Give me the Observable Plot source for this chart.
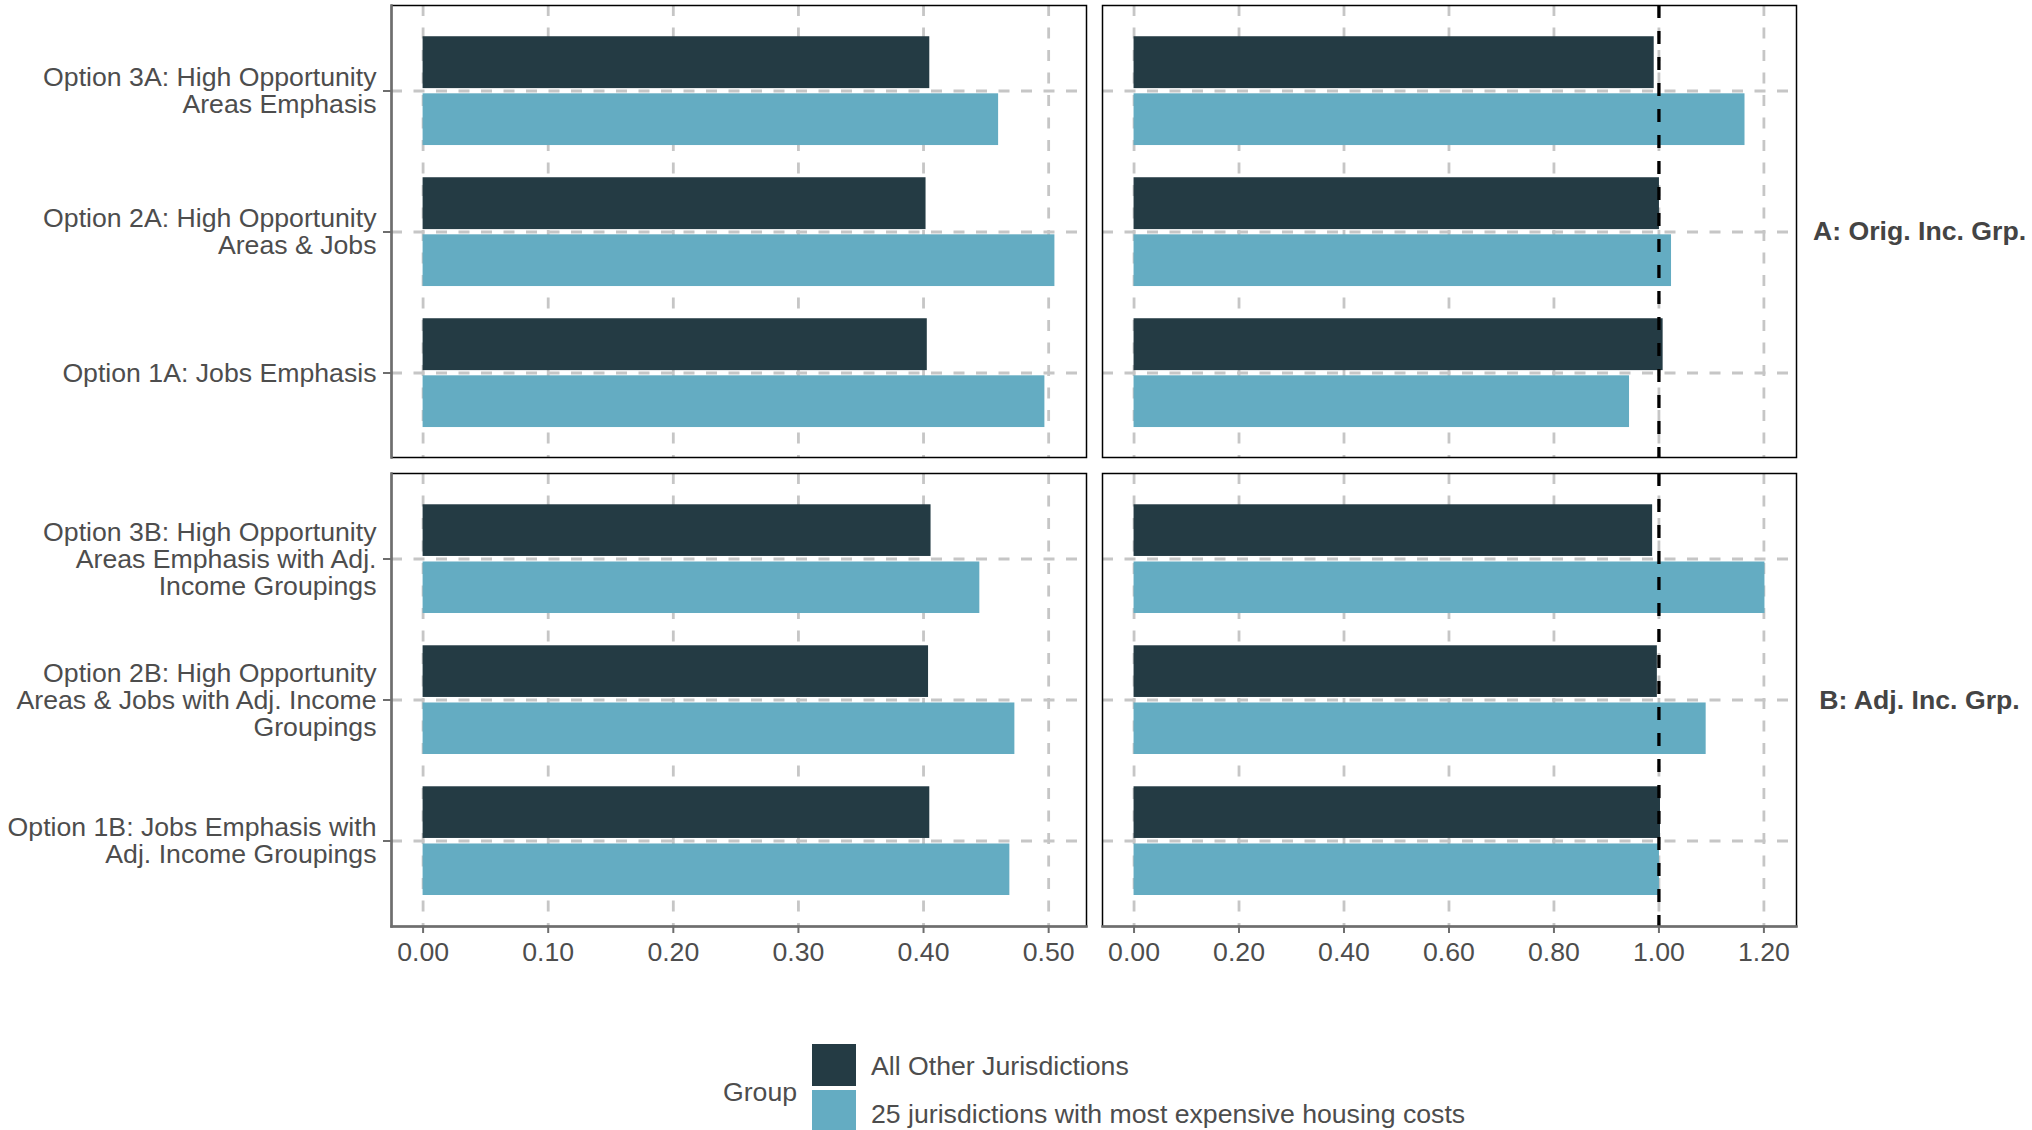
<!DOCTYPE html>
<html><head><meta charset="utf-8">
<script src="https://cdn.jsdelivr.net/npm/d3@7"></script>
<script src="https://cdn.jsdelivr.net/npm/@observablehq/plot@0.6"></script>
<style>
html,body{margin:0;padding:0;background:#fff;}
#chart{position:relative;width:2032px;height:1130px;overflow:hidden;font-family:"Liberation Sans",Arial,sans-serif;color:#4d4d4d;background:#fff;}
#chart svg{position:absolute;}
.lg{position:absolute;font-size:26.67px;line-height:30px;height:30px;white-space:nowrap;color:#4d4d4d;}
.sw{position:absolute;width:44px;height:42px;}
</style></head><body><div id="chart"></div>
<script>
// ---- data ----
const categoriesA = [
  "Option 3A: High Opportunity\nAreas Emphasis",
  "Option 2A: High Opportunity\nAreas & Jobs",
  "Option 1A: Jobs Emphasis"
];
const categoriesB = [
  "Option 3B: High Opportunity\nAreas Emphasis with Adj.\nIncome Groupings",
  "Option 2B: High Opportunity\nAreas & Jobs with Adj. Income\nGroupings",
  "Option 1B: Jobs Emphasis with\nAdj. Income Groupings"
];
const groups = ["All Other Jurisdictions", "25 jurisdictions with most expensive housing costs"];
const groupColors = ["#243B44", "#64ACC2"];
const leftOtherA = [0.405, 0.402, 0.403];
const leftExpensiveA = [0.460, 0.505, 0.497];
const rightOtherA = [0.991, 1.001, 1.008];
const rightExpensiveA = [1.164, 1.024, 0.944];
const leftOtherB = [0.406, 0.404, 0.405];
const leftExpensiveB = [0.445, 0.473, 0.469];
const rightOtherB = [0.988, 0.997, 1.003];
const rightExpensiveB = [1.202, 1.090, 1.001];
const leftTicks = [0, 0.1, 0.2, 0.3, 0.4, 0.5];
const rightTicks = [0, 0.2, 0.4, 0.6, 0.8, 1.0, 1.2];
const stripLabels = ["A: Orig. Inc. Grp.", "B: Adj. Inc. Grp."];
const legendTitle = "Group";
const referenceValue = 1;

// ---- helpers ----
function rows(cats, other, expensive) {
  const out = [];
  cats.forEach((c, i) => {
    out.push({cat: c, group: groups[0], value: other[i]});
    out.push({cat: c, group: groups[1], value: expensive[i]});
  });
  return out;
}
function expandDomain(vals) {
  const m = d3.max(vals);
  return [-0.05 * m, 1.05 * m];
}
const leftDomain = expandDomain([...leftOtherA, ...leftExpensiveA, ...leftOtherB, ...leftExpensiveB]);
const rightDomain = expandDomain([...rightOtherA, ...rightExpensiveA, ...rightOtherB, ...rightExpensiveB]);

const chart = document.getElementById("chart");
const gridStyle = {stroke: "#c6c6c6", strokeOpacity: 1, strokeWidth: 2.8, strokeDasharray: "11,11.5"};
const axisGray = "#6e6e6e";

function panel(o) {
  const panelH = o.height - o.mt - o.mb;
  const step = panelH / 3.2;
  const data = rows(o.cats, o.other, o.expensive);
  const svg = Plot.plot({
    width: o.width, height: o.height,
    marginLeft: o.ml, marginRight: o.mr, marginTop: o.mt, marginBottom: o.mb,
    style: {background: "transparent", fontFamily: "'Liberation Sans', Arial, sans-serif", fontSize: "26.67px", color: "#4d4d4d", overflow: "visible"},
    x: {domain: o.domain, axis: null},
    y: {domain: o.cats, type: "band", paddingInner: 0, paddingOuter: 0.1, axis: null},
    color: {domain: groups, range: groupColors},
    marks: [
      Plot.gridX(o.ticks, gridStyle),
      Plot.gridY(o.cats, gridStyle),
      Plot.barX(data.filter(d => d.group === groups[0]), {x: "value", y: "cat", fill: "group", insetTop: step * 0.115, insetBottom: step * 0.516}),
      Plot.barX(data.filter(d => d.group === groups[1]), {x: "value", y: "cat", fill: "group", insetTop: step * 0.519, insetBottom: step * 0.113}),
      o.ref ? Plot.ruleX([referenceValue], {stroke: "black", strokeWidth: 3.3, strokeDasharray: "13,13"}) : null,
      Plot.frame({stroke: "black", strokeWidth: 1.5}),
      o.showY ? Plot.axisY(o.cats, {label: null, tickSize: 8, tickPadding: 7, stroke: axisGray, strokeWidth: 2, fill: "#4d4d4d", fontSize: 26.67, lineHeight: 1.02, tickFormat: d => d}) : null,
      o.showY ? Plot.frame({anchor: "left", stroke: axisGray, strokeWidth: 2.5}) : null,
      o.showX ? Plot.axisX(o.ticks, {label: null, tickSize: 7, tickPadding: 9, stroke: axisGray, strokeWidth: 2, fill: "#4d4d4d", fontSize: 26.67, tickFormat: d3.format(".2f")}) : null,
      o.showX ? Plot.frame({anchor: "bottom", stroke: axisGray, strokeWidth: 2.5}) : null,
      o.strip ? Plot.text([o.strip], {frameAnchor: "right", dx: 123, textAnchor: "middle", fontWeight: "bold", fill: "#444444", fontSize: 26.67}) : null
    ]
  });
  svg.style.left = o.left + "px";
  svg.style.top = o.top + "px";
  chart.appendChild(svg);
}

// top-left
panel({cats: categoriesA, other: leftOtherA, expensive: leftExpensiveA, ticks: leftTicks, domain: leftDomain,
  left: 0, top: 0, width: 1090, height: 462, ml: 391, mr: 4, mt: 5, mb: 5, showY: true, showX: false});
// top-right
panel({cats: categoriesA, other: rightOtherA, expensive: rightExpensiveA, ticks: rightTicks, domain: rightDomain,
  left: 1090, top: 0, width: 942, height: 462, ml: 12, mr: 236, mt: 5, mb: 5, showY: false, showX: false, ref: true, strip: stripLabels[0]});
// bottom-left
panel({cats: categoriesB, other: leftOtherB, expensive: leftExpensiveB, ticks: leftTicks, domain: leftDomain,
  left: 0, top: 462, width: 1090, height: 548, ml: 391, mr: 4, mt: 11, mb: 84, showY: true, showX: true});
// bottom-right
panel({cats: categoriesB, other: rightOtherB, expensive: rightExpensiveB, ticks: rightTicks, domain: rightDomain,
  left: 1090, top: 462, width: 942, height: 548, ml: 12, mr: 236, mt: 11, mb: 84, showY: false, showX: true, ref: true, strip: stripLabels[1]});

// legend
function addDiv(cls, style, text) {
  const d = document.createElement("div");
  d.className = cls;
  Object.assign(d.style, style);
  if (text) d.textContent = text;
  chart.appendChild(d);
}
addDiv("lg", {left: "723px", top: "1077px"}, legendTitle);
addDiv("sw", {left: "812px", top: "1044px", background: groupColors[0]});
addDiv("sw", {left: "812px", top: "1090px", background: groupColors[1]});
addDiv("lg", {left: "871px", top: "1051px"}, groups[0]);
addDiv("lg", {left: "871px", top: "1099px"}, groups[1]);
</script>
</body></html>
